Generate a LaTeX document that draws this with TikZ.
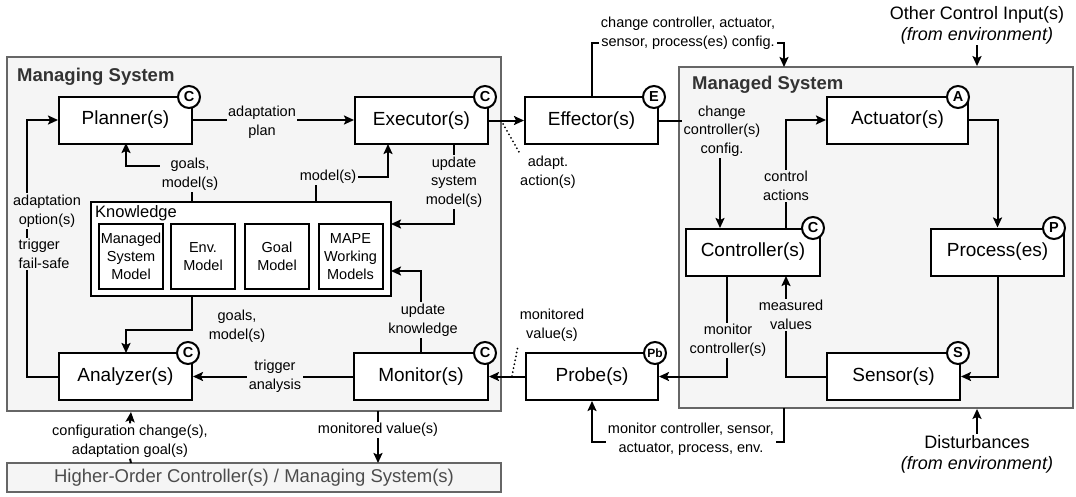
\documentclass[tikz,border=0pt]{standalone}
\usepackage{fontspec}
\setmainfont{Liberation Sans}
\usetikzlibrary{arrows.meta}
\definecolor{sysfill}{HTML}{F5F5F5}
\definecolor{sysline}{HTML}{666666}
\definecolor{systext}{HTML}{333333}
\tikzstyle{system}=[draw=sysline,line width=1.8pt,fill=sysfill,inner sep=0pt]
\tikzstyle{block}=[draw,line width=2pt,fill=white,minimum height=47pt,inner sep=0pt,font=\fontsize{19}{22}\selectfont]
\tikzstyle{part}=[draw,line width=2pt,fill=white,minimum width=64pt,minimum height=65pt,inner sep=0pt,align=center,font=\fontsize{14.5}{18}\selectfont]
\tikzstyle{badge}=[circle,draw,line width=2pt,fill=white,minimum size=22pt,inner sep=0pt,font=\fontsize{14.5}{15}\selectfont\bfseries]
\tikzstyle{tag}=[align=center,inner sep=1.5pt,fill=sysfill,font=\fontsize{14.5}{18.5}\selectfont]
\tikzstyle{outtag}=[tag,fill=white]
\tikzstyle{title}=[anchor=west,inner sep=0pt,text=systext,font=\fontsize{18.5}{20}\selectfont\bfseries]
\tikzstyle{envtag}=[align=center,inner sep=1pt,font=\fontsize{18}{21}\selectfont]
\tikzstyle{flow}=[draw,line width=2pt,-{Stealth[length=10pt,width=9pt,inset=2pt]}]
\tikzstyle{link}=[draw,line width=2pt,-]
\tikzstyle{hint}=[draw,line width=2pt,line cap=round,dash pattern=on 0pt off 4pt]

\begin{document}
\begin{tikzpicture}[x=1pt,y=-1pt]
    \useasboundingbox (0,0) rectangle (1076,496);
    % systems
    \node[system,minimum width=494pt,minimum height=354pt] (managing) at (254,234) {};
    \node[system,minimum width=394pt,minimum height=341pt] (managed) at (876,237.5) {};
    \node[system,minimum width=494pt,minimum height=29pt,text=black!70,font=\fontsize{18.5}{20}\selectfont] (higher) at (254,477.5) {Higher-Order Controller(s) / Managing System(s)};
    \node[title] (managingtitle) at (17,77) {Managing System};
    \node[title] (managedtitle) at (692,85) {Managed System};
    % knowledge
    \node[draw,line width=2pt,fill=white,minimum width=300pt,minimum height=94pt] (knowledge) at (241,249) {};
    \node[anchor=west,inner sep=0pt,font=\fontsize{16.5}{18}\selectfont] (knowledgetitle) at (95,213) {Knowledge};
    \foreach \pos/\name/\txt in {{(131,256.5)/msmodel/Managed\\System\\Model}, {(203,256.5)/envmodel/Env.\\Model}, {(277,256.5)/goalmodel/Goal\\Model}, {(350.5,256.5)/mapemodel/MAPE\\Working\\Models}}
        \node[part] (\name) at \pos {\txt};
    % blocks
    \foreach \pos/\name/\w/\txt in {{(125.5,120)/planner/133/Planner(s)}, {(421.5,120.5)/executor/133/Executor(s)}, {(591.5,120.5)/effector/133/Effector(s)}, {(125.5,376.5)/analyzer/133/Analyzer(s)}, {(421,376.5)/monitor/134/Monitor(s)}, {(592,376.5)/probe/132/Probe(s)}, {(753,252)/controller/134/Controller(s)}, {(897.5,120)/actuator/141/Actuator(s)}, {(997.5,252)/process/133/Process(es)}, {(893.5,376.5)/sensor/133/Sensor(s)}}
        \node[block,minimum width=\w*1pt] (\name) at \pos {\txt};
    \foreach \pos/\name/\role in {{(189,97)/planner/C}, {(485,97)/executor/C}, {(654,97)/effector/E}, {(188,353)/analyzer/C}, {(485,353)/monitor/C}, {(813,228)/controller/C}, {(958,97)/actuator/A}, {(1054,228)/process/P}, {(958,353)/sensor/S}}
        \node[badge] (\name-role) at \pos {\role};
    \node[badge,font=\fontsize{12}{12}\selectfont\bfseries] (probe-role) at (655,353) {Pb};
    % turning points
    \coordinate (kplan) at (192,202);
    \coordinate (kplanturn) at (192,166);
    \coordinate (plangoal) at (126,143);
    \coordinate (kexec) at (316,202);
    \coordinate (kexecturn) at (316,177);
    \coordinate (execmodel) at (388,144);
    \coordinate (kana) at (192,296);
    \coordinate (kanaturn) at (192,330);
    \coordinate (anagoal) at (126,353);
    \coordinate (execupd) at (454,144);
    \coordinate (kin1) at (391,224);
    \coordinate (kin2) at (391,271);
    \coordinate (loopbot) at (27,376.5);
    \coordinate (hoin) at (131,463);
    \coordinate (cfgup) at (131,412);
    \coordinate (monout) at (378,411);
    \coordinate (hoout) at (378,463);
    \coordinate (cfgin) at (720,228);
    \coordinate (cfgturn) at (784,43);
    \coordinate (cfgtop) at (784,67);
    \coordinate (ctrlout) at (786,228);
    \coordinate (ctrlin) at (786,276);
    \coordinate (ctrlmon) at (727,276);
    \coordinate (envmon) at (784,408);
    \coordinate (envturn) at (784,442);
    \coordinate (execdot) at (503,124);
    \coordinate (actdot) at (519,152);
    \coordinate (probedot) at (512,376);
    \coordinate (valdot) at (518,346);
    % connectors
    \path[flow] (planner.east) -- (executor.west |- planner.east);
    \path[flow] (executor.east) -- (effector.west |- executor.east);
    \path[flow] (kplan) -- (kplanturn) -| (plangoal);
    \path[flow] (kexec) -- (kexecturn) -| (execmodel);
    \path[flow] (kana) -- (kanaturn) -| (anagoal);
    \path[flow] (execupd) |- (kin1);
    \path[flow] (monitor.north) |- (kin2);
    \path[flow] (monitor.west) -- (analyzer.east);
    \path[flow] (analyzer.west) -- (loopbot) |- (planner.west);
    \path[flow] (monout) -- (hoout);
    \path[flow] (probe.west) -- (monitor.east |- probe.west);
    \path[flow] (effector.east) -| (cfgin);
    \path[flow] (effector.north) |- (cfgturn) -- (cfgtop);
    \path[flow] (ctrlout) |- (actuator.west);
    \path[flow] (actuator.east) -| (process.north);
    \path[flow] (process.south) |- (sensor.east);
    \path[flow] (sensor.west) -| (ctrlin);
    \path[flow] (ctrlmon) |- (probe.east);
    \path[flow] (envmon) -- (envturn) -| (probe.south);
    \path[hint] (execdot) -- (actdot);
    \path[hint] (probedot) -- (valdot);
    % labels
    \node[tag] (planlbl) at (262,122) {adaptation\\plan};
    \node[tag] (goalplbl) at (190,174) {goals,\\model(s)};
    \node[tag] (modexlbl) at (328,177) {model(s)};
    \node[tag] (updslbl) at (454,182) {update\\system\\model(s)};
    \node[tag] (goalalbl) at (237,326) {goals,\\model(s)};
    \node[tag] (updklbl) at (423,320) {update\\knowledge};
    \node[tag] (triglbl) at (275,376) {trigger\\analysis};
    \node[tag] (optlbl) at (47,211) {adaptation\\option(s)};
    \node[tag,anchor=west,align=left] (faillbl) at (17,254) {trigger\\fail-safe};
    \node[outtag] (hocfglbl) at (130,441) {configuration change(s),\\adaptation goal(s)};
    \node[outtag] (homonlbl) at (378,430) {monitored value(s)};
    \node[outtag] (actlbl) at (548,172) {adapt.\\action(s)};
    \node[outtag] (monvallbl) at (552,325) {monitored\\value(s)};
    \node[outtag,font=\fontsize{14.5}{19.5}\selectfont] (allcfglbl) at (688,33) {change controller, actuator,\\sensor, process(es) config.};
    \node[outtag] (envmonlbl) at (691,439) {monitor controller, sensor,\\actuator, process, env.};
    \node[tag] (ccfglbl) at (722,131) {change\\controller(s)\\config.};
    \node[tag] (ctrlactlbl) at (786,186) {control\\actions};
    \node[tag] (measlbl) at (791,315) {measured\\values};
    \node[tag] (monctrllbl) at (728,340) {monitor\\controller(s)};
    \path[flow] (hocfglbl.north) -- (cfgup);
    \path[link] (hoin) -- (hocfglbl.south);
    % environment
    \node[envtag] (otherin) at (977,25) {Other Control Input(s)\\\textit{(from environment)}};
    \node[envtag] (disturb) at (977,454) {Disturbances\\\textit{(from environment)}};
    \path[flow] (otherin.south) -- (otherin.south |- managed.north);
    \path[flow] (disturb.north) -- (disturb.north |- managed.south);
\end{tikzpicture}
\end{document}
